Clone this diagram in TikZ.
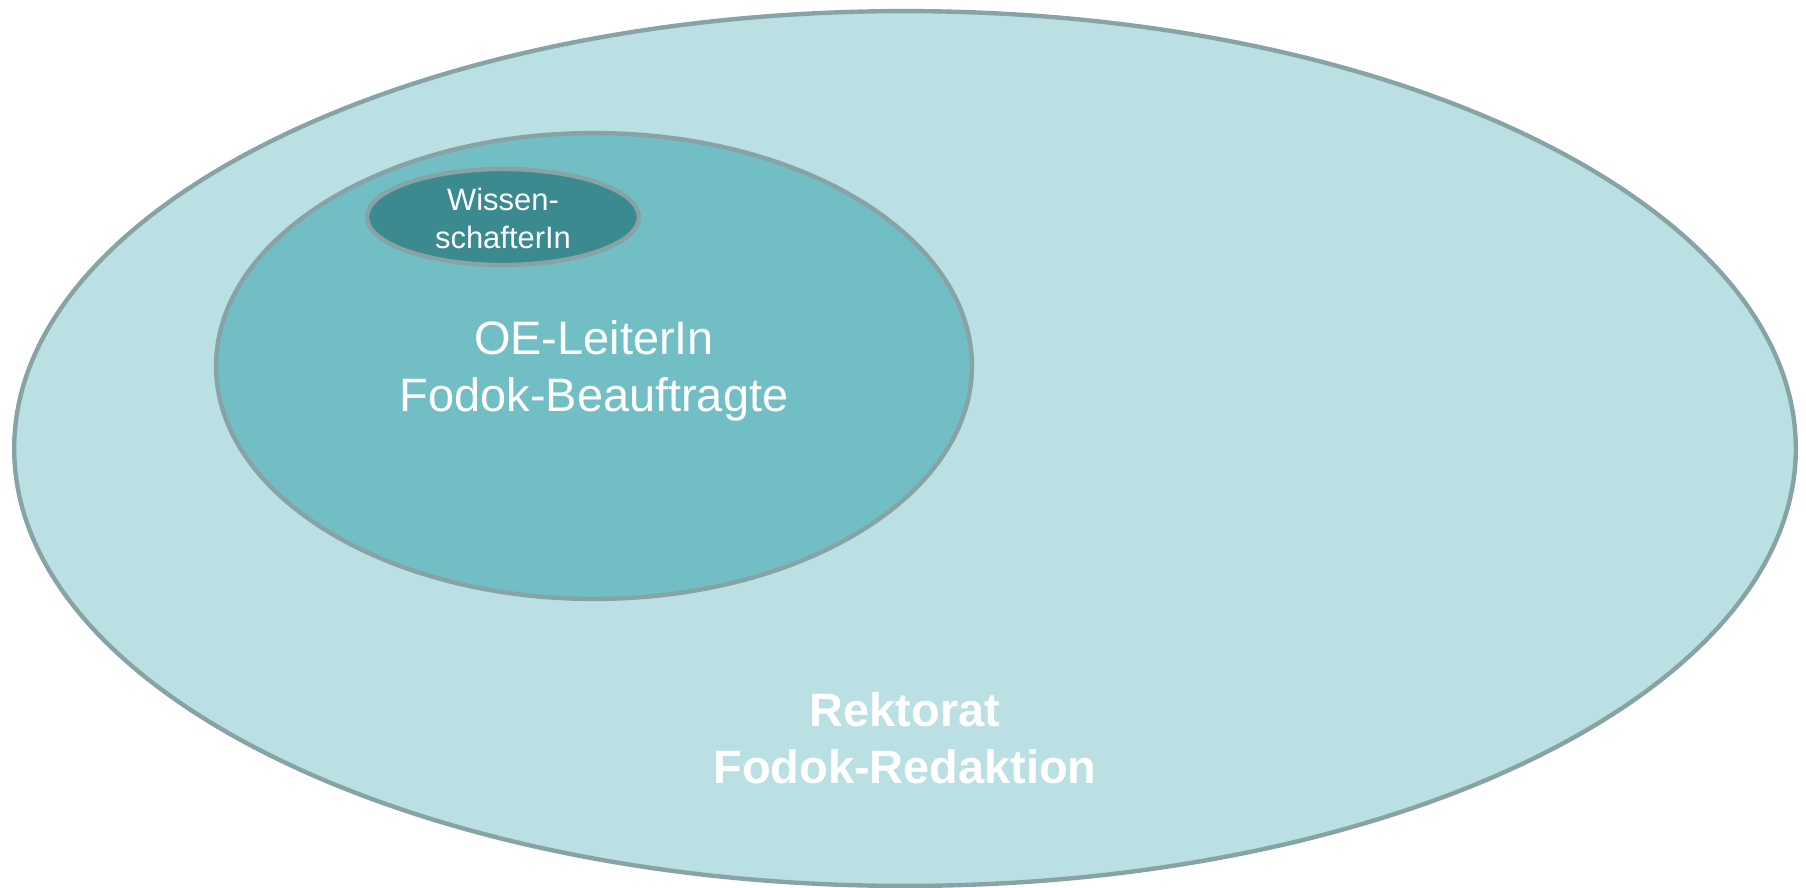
\documentclass[tikz,border=0pt]{standalone}
\usepackage{fontspec}
\setmainfont{Liberation Sans}
\usepackage{tikz}
\usetikzlibrary{positioning,shapes.geometric}
\definecolor{fdRing}{RGB}{135,163,166}
\definecolor{fdOuter}{RGB}{186,224,227}
\definecolor{fdMid}{RGB}{114,190,197}
\definecolor{fdInner}{RGB}{58,138,144}

\begin{document}
\begin{tikzpicture}[x=0.02cm, y=-0.02cm,
  ring/.style={ellipse, draw=fdRing, line width=2.5pt, inner sep=0pt},
  lbl/.style={text=white, align=center, inner sep=0pt}]
  \useasboundingbox (0,0) rectangle (1806,887);

  % Rektorat: outer ring
  \node[ring, fill=fdOuter, minimum width=35.64cm, minimum height=17.5cm] (rek) at (905,448.5) {};
  \node[lbl, font=\fontsize{26.7}{32.4}\selectfont\bfseries] (rektxt) at (905,738) {Rektorat\\Fodok-Redaktion};

  % OE-LeiterIn: middle ring
  \node[ring, fill=fdMid, minimum width=15.12cm, minimum height=9.32cm] (oe) at (594,366) {};
  \node[lbl, font=\fontsize{26.7}{32.4}\selectfont] (oetxt) at (594,371) {OE-LeiterIn\\Fodok-Beauftragte};

  % WissenschafterIn: inner ring
  \node[ring, fill=fdInner, minimum width=5.44cm, minimum height=1.92cm] (wiss) at (503,217) {};
  \node[lbl, font=\fontsize{17.6}{21.6}\selectfont] (wisstxt) at (503,218) {Wissen-\\schafterIn};
\end{tikzpicture}
\end{document}
